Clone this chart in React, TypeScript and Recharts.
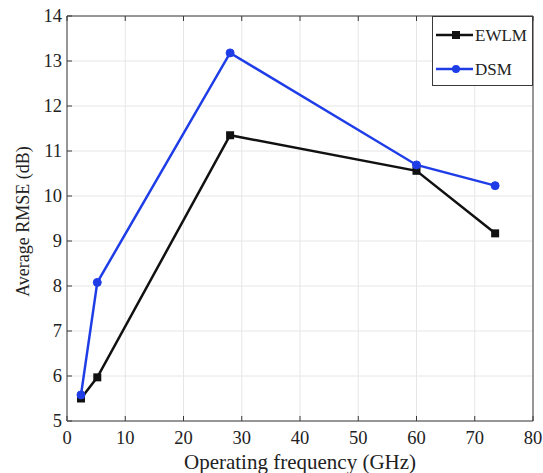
import React from "react";
import {
  LineChart,
  Line,
  XAxis,
  YAxis,
  CartesianGrid,
} from "recharts";

const frequencies = [2.4, 5.2, 28, 60, 73.5];
const ewlmValues = [5.5, 5.97, 11.35, 10.56, 9.17];
const dsmValues = [5.58, 8.08, 13.18, 10.69, 10.23];
const xTicks = [0, 10, 20, 30, 40, 50, 60, 70, 80];
const yTicks = [5, 6, 7, 8, 9, 10, 11, 12, 13, 14];

const data = frequencies.map((f, i) => ({ f, ewlm: ewlmValues[i], dsm: dsmValues[i] }));

const FONT = "'Liberation Serif', 'Times New Roman', serif";
const FRAME = "#3a3a3a";
const BLUE = "#1f3de6";
const XMARGIN = 10;
const YMARGIN = 5;

const BottomTick = (props: any) => {
  const { x, y, payload } = props;
  const edge = y - XMARGIN;
  return (
    <g>
      <line x1={x} x2={x} y1={edge} y2={edge - 5} stroke={FRAME} />
      <text x={x} y={y} dy="0.71em" textAnchor="middle" fontFamily={FONT} fontSize={18.5} fill="#222">
        {payload.value}
      </text>
    </g>
  );
};

const LeftTick = (props: any) => {
  const { x, y, payload } = props;
  const edge = x + YMARGIN;
  return (
    <g>
      <line x1={edge} x2={edge + 5} y1={y} y2={y} stroke={FRAME} />
      <text x={x} y={y} dy="0.34em" textAnchor="end" fontFamily={FONT} fontSize={18.5} fill="#222">
        {payload.value}
      </text>
    </g>
  );
};

const TopTick = (props: any) => {
  const { x, y } = props;
  const edge = y + XMARGIN;
  return <line x1={x} x2={x} y1={edge} y2={edge + 5} stroke={FRAME} />;
};

const RightTick = (props: any) => {
  const { x, y } = props;
  const edge = x - YMARGIN;
  return <line x1={edge} x2={edge - 5} y1={y} y2={y} stroke={FRAME} />;
};

const SquareDot = (props: any) => {
  const { cx, cy, index } = props;
  return <rect key={`sq-${index}`} x={cx - 4} y={cy - 4} width={8} height={8} fill="#111" />;
};

const LegendBox = () => (
  <svg width={101} height={70} style={{ position: "absolute", left: 432, top: 16 }}>
    <rect x={0.5} y={0.5} width={100} height={69} fill="#fff" stroke={FRAME} />
    <line x1={4} x2={41} y1={19} y2={19} stroke="#111" strokeWidth={2.5} />
    <rect x={20} y={15} width={8} height={8} fill="#111" />
    <text x={43} y={25} fontFamily={FONT} fontSize={17} fill="#222">EWLM</text>
    <line x1={4} x2={41} y1={53} y2={53} stroke={BLUE} strokeWidth={2.5} />
    <circle cx={24} cy={53} r={4} fill={BLUE} />
    <text x={43} y={59} fontFamily={FONT} fontSize={17} fill="#222">DSM</text>
  </svg>
);

export default function App() {
  return (
    <div style={{ position: "absolute", left: 0, top: 0, width: 543, height: 473, background: "#fff" }}>
      <LineChart width={543} height={473} data={data} margin={{ top: 0, right: 0, left: 8, bottom: 0 }}>
        <CartesianGrid xAxisId="b" yAxisId="l" stroke="#e6e6e6" strokeWidth={1} />
        <XAxis
          xAxisId="b"
          dataKey="f"
          type="number"
          domain={[0, 80]}
          ticks={xTicks}
          height={52}
          tickSize={0}
          tickMargin={XMARGIN}
          tickLine={false}
          axisLine={{ stroke: FRAME }}
          tick={<BottomTick />}
          label={{
            content: (p: any) => {
              const vb = p.viewBox;
              return (
                <text x={vb.x + vb.width / 2} y={vb.y + 48} textAnchor="middle" fontFamily={FONT} fontSize={21} fill="#222">
                  Operating frequency (GHz)
                </text>
              );
            },
          }}
        />
        <XAxis
          xAxisId="t"
          dataKey="f"
          type="number"
          orientation="top"
          domain={[0, 80]}
          ticks={xTicks}
          height={16}
          tickSize={0}
          tickMargin={XMARGIN}
          tickLine={false}
          axisLine={{ stroke: FRAME }}
          tick={<TopTick />}
        />
        <YAxis
          yAxisId="l"
          type="number"
          domain={[5, 14]}
          ticks={yTicks}
          width={59}
          tickSize={0}
          tickMargin={YMARGIN}
          tickLine={false}
          axisLine={{ stroke: FRAME }}
          tick={<LeftTick />}
          label={{
            content: (p: any) => {
              const vb = p.viewBox;
              const cx = vb.x + 17;
              const cy = vb.y + vb.height / 2 + 3;
              return (
                <text x={cx} y={cy} textAnchor="middle" dominantBaseline="middle" transform={`rotate(-90 ${cx} ${cy})`} fontFamily={FONT} fontSize={18} fill="#222">
                  Average RMSE (dB)
                </text>
              );
            },
          }}
        />
        <YAxis
          yAxisId="r"
          orientation="right"
          type="number"
          domain={[5, 14]}
          ticks={yTicks}
          width={10}
          tickSize={0}
          tickMargin={YMARGIN}
          tickLine={false}
          axisLine={{ stroke: FRAME }}
          tick={<RightTick />}
        />
        <Line
          xAxisId="b"
          yAxisId="l"
          dataKey="ewlm"
          name="EWLM"
          stroke="#111"
          strokeWidth={2.5}
          dot={<SquareDot />}
          activeDot={false}
          isAnimationActive={false}
        />
        <Line
          xAxisId="b"
          yAxisId="l"
          dataKey="dsm"
          name="DSM"
          stroke={BLUE}
          strokeWidth={2.5}
          dot={{ r: 4, fill: BLUE, stroke: BLUE, strokeWidth: 1 }}
          activeDot={false}
          isAnimationActive={false}
        />
      </LineChart>
      <LegendBox />
    </div>
  );
}
